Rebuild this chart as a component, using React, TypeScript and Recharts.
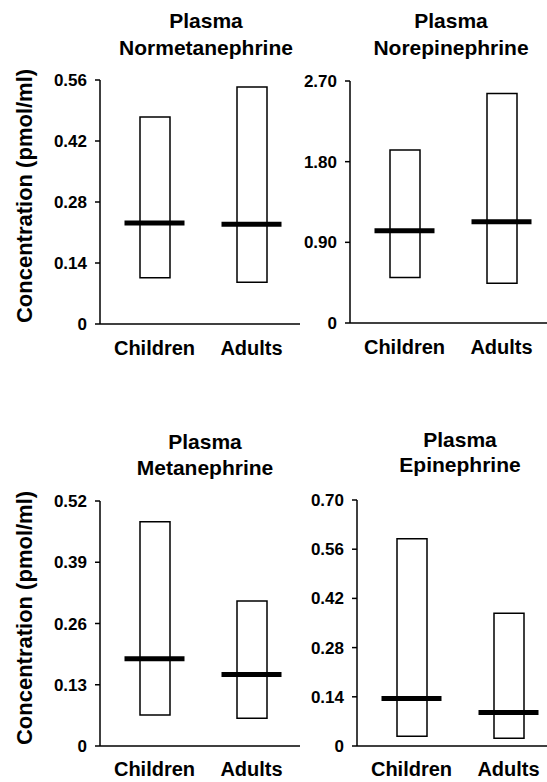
import { ComposedChart, Bar, Line, XAxis, YAxis } from "recharts";

const FONT = '"Liberation Sans", Arial, Helvetica, sans-serif';

// groups on the x axis
const groups = ["Children", "Adults"];

// Plasma normetanephrine (pmol/ml)
const normetLow = [0.106, 0.096];
const normetHigh = [0.475, 0.544];
const normetMedian = [0.232, 0.229];
const normetTicks = [0, 0.14, 0.28, 0.42, 0.56];

// Plasma norepinephrine
const norepiLow = [0.507, 0.444];
const norepiHigh = [1.93, 2.56];
const norepiMedian = [1.03, 1.13];
const norepiTicks = [0, 0.9, 1.8, 2.7];

// Plasma metanephrine
const metLow = [0.066, 0.059];
const metHigh = [0.476, 0.308];
const metMedian = [0.185, 0.152];
const metTicks = [0, 0.13, 0.26, 0.39, 0.52];

// Plasma epinephrine
const epiLow = [0.028, 0.022];
const epiHigh = [0.59, 0.378];
const epiMedian = [0.135, 0.095];
const epiTicks = [0, 0.14, 0.28, 0.42, 0.56, 0.7];

function buildRows(low: number[], high: number[], median: number[]) {
  return groups.map((g, i) => ({
    group: g,
    range: [low[i], high[i]],
    median: median[i],
  }));
}

const fmt = (v: number) => (v === 0 ? "0" : v.toFixed(2));

// thick horizontal median marker
function MedianDash(props: any) {
  const { cx, cy, index } = props;
  if (cx == null || cy == null) return <g key={index} />;
  return (
    <line
      key={index}
      x1={cx - 30}
      x2={cx + 30}
      y1={cy}
      y2={cy}
      stroke="#000"
      strokeWidth={5}
    />
  );
}

function Panel({
  left,
  top,
  height,
  marginTop,
  marginBottom,
  rows,
  ticks,
  labelMargin,
}: {
  left: number;
  top: number;
  height: number;
  marginTop: number;
  marginBottom: number;
  rows: any[];
  ticks: number[];
  labelMargin: number;
}) {
  return (
    <div style={{ position: "absolute", left, top }}>
      <ComposedChart
        width={300}
        height={height}
        data={rows}
        margin={{ top: marginTop, right: 0, left: 0, bottom: marginBottom }}
      >
        <XAxis
          dataKey="group"
          padding={{ left: 6, right: 0 }}
          height={30}
          tickLine={false}
          tickMargin={labelMargin}
          axisLine={{ stroke: "#000", strokeWidth: 1.5 }}
          tick={{ fill: "#000", fontSize: 20, fontWeight: 700, fontFamily: FONT }}
        />
        <YAxis
          width={100}
          domain={[ticks[0], ticks[ticks.length - 1]]}
          ticks={ticks}
          tickFormatter={fmt}
          tickSize={5}
          tickMargin={8}
          axisLine={{ stroke: "#000", strokeWidth: 1.5 }}
          tickLine={{ stroke: "#000", strokeWidth: 1.5 }}
          tick={{ fill: "#000", fontSize: 17, fontWeight: 700, fontFamily: FONT }}
        />
        <Bar
          dataKey="range"
          barSize={30}
          fill="#fff"
          stroke="#000"
          strokeWidth={1.5}
          isAnimationActive={false}
        />
        <Line
          dataKey="median"
          stroke="none"
          dot={<MedianDash />}
          activeDot={false}
          isAnimationActive={false}
        />
      </ComposedChart>
    </div>
  );
}

const titleStyle = {
  fontFamily: FONT,
  fontWeight: 700,
  fontSize: 21,
  fill: "#000",
};

export default function App() {
  return (
    <div
      style={{
        position: "absolute",
        left: 0,
        top: 0,
        width: 547,
        height: 782,
        overflow: "hidden",
        background: "#fff",
      }}
    >
      <Panel
        left={0}
        top={0}
        height={370}
        marginTop={80}
        marginBottom={16}
        rows={buildRows(normetLow, normetHigh, normetMedian)}
        ticks={normetTicks}
        labelMargin={11}
      />
      <Panel
        left={250}
        top={0}
        height={370}
        marginTop={81}
        marginBottom={17}
        rows={buildRows(norepiLow, norepiHigh, norepiMedian)}
        ticks={norepiTicks}
        labelMargin={11}
      />
      <Panel
        left={0}
        top={390}
        height={392}
        marginTop={111}
        marginBottom={6}
        rows={buildRows(metLow, metHigh, metMedian)}
        ticks={metTicks}
        labelMargin={10}
      />
      <Panel
        left={257}
        top={390}
        height={392}
        marginTop={110}
        marginBottom={6}
        rows={buildRows(epiLow, epiHigh, epiMedian)}
        ticks={epiTicks}
        labelMargin={10}
      />
      <svg
        width={547}
        height={782}
        style={{ position: "absolute", left: 0, top: 0, pointerEvents: "none" }}
      >
        <text x={206} y={28} textAnchor="middle" style={titleStyle}>Plasma</text>
        <text x={206} y={55} textAnchor="middle" style={titleStyle}>Normetanephrine</text>
        <text x={451} y={28} textAnchor="middle" style={titleStyle}>Plasma</text>
        <text x={451} y={55} textAnchor="middle" style={titleStyle}>Norepinephrine</text>
        <text x={205} y={449} textAnchor="middle" style={titleStyle}>Plasma</text>
        <text x={205} y={475} textAnchor="middle" style={titleStyle}>Metanephrine</text>
        <text x={460} y={447} textAnchor="middle" style={titleStyle}>Plasma</text>
        <text x={460} y={472} textAnchor="middle" style={titleStyle}>Epinephrine</text>
        <text
          x={24}
          y={196}
          textAnchor="middle"
          dominantBaseline="central"
          transform="rotate(-90 24 196)"
          style={{ ...titleStyle, fontSize: 22 }}
        >
          Concentration (pmol/ml)
        </text>
        <text
          x={24}
          y={618}
          textAnchor="middle"
          dominantBaseline="central"
          transform="rotate(-90 24 618)"
          style={{ ...titleStyle, fontSize: 22 }}
        >
          Concentration (pmol/ml)
        </text>
      </svg>
    </div>
  );
}
